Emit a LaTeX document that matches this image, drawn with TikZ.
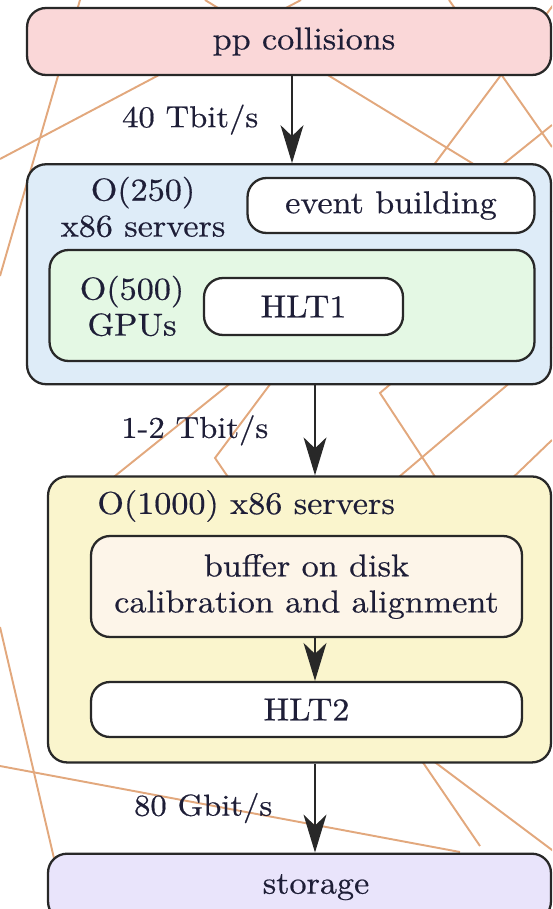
\documentclass[tikz,border=0pt]{standalone}
\usepackage{fontspec}
\setmainfont{lmroman10-regular.otf}[FakeStretch=1.08, FakeBold=0.5]
\usepackage{tikz}
\usetikzlibrary{arrows.meta,positioning}
\definecolor{edge}{RGB}{40,40,40}
\definecolor{txt}{RGB}{30,30,55}
\definecolor{bgorange}{RGB}{226,168,125}
\definecolor{pinkfill}{RGB}{250,215,216}
\definecolor{bluefill}{RGB}{222,236,248}
\definecolor{greenfill}{RGB}{228,248,228}
\definecolor{yellowfill}{RGB}{250,245,205}
\definecolor{creamfill}{RGB}{253,245,233}
\definecolor{lilacfill}{RGB}{233,228,251}
\tikzset{
    box/.style={rectangle, rounded corners=0.38cm, draw=edge, line width=1.3pt, text=txt, align=center, inner sep=0pt},
    tag/.style={inner sep=0pt, text=txt, align=center},
    rate/.style={inner sep=0pt, text=txt, font=\fontsize{17.2}{19.5}\selectfont},
    flow/.style={-{Stealth[length=7.6mm, width=4.6mm, inset=2.2mm]}, line width=0.8pt, draw=edge},
    bgline/.style={draw=bgorange, line width=1.1pt}
}

\begin{document}
\begin{tikzpicture}[x=0.02cm, y=-0.02cm, font=\fontsize{18}{20.5}\selectfont]
    \useasboundingbox (0,0) rectangle (552,909);
    \clip (0,0) rectangle (552,909);

    % background lines
    \draw[bgline] (80,0) -- (0,276);
    \draw[bgline] (301,0) -- (0,159);
    \draw[bgline] (205,0) -- (552,212);
    \draw[bgline] (449,0) -- (552,147);
    \draw[bgline] (557,0) -- (215,458) -- (480,846);
    \draw[bgline] (552,125) -- (110,480);
    \draw[bgline] (428,352) -- (380,393) -- (470,530);
    \draw[bgline] (552,347) -- (360,510);
    \draw[bgline] (552,440) -- (500,490);
    \draw[bgline] (0,627) -- (60,884);
    \draw[bgline] (0,766) -- (460,852);
    \draw[bgline] (400,736) -- (560,856);

    % stages
    \node[box, fill=pinkfill, minimum width=10.48cm, minimum height=1.34cm] (pp) at (289,41.5) {\hspace*{0.6cm}pp collisions};
    \node[box, fill=bluefill, minimum width=10.48cm, minimum height=4.4cm, below=1.74cm of pp] (farm) {};
    \node[box, fill=yellowfill, minimum width=10.06cm, minimum height=5.72cm, below=1.8cm of farm, xshift=0.21cm] (disk) {};
    \node[box, fill=lilacfill, minimum width=10.06cm, minimum height=1.34cm, below=1.78cm of disk] (storage) {\hspace*{0.66cm}storage};

    % inside the event builder farm
    \node[tag] (farmtag) at (143,207) {O(250)\\x86 servers};
    \node[box, fill=white, minimum width=5.74cm, minimum height=1.1cm] (evb) at (391,205.5) {event building};
    \node[box, fill=greenfill, minimum width=9.7cm, minimum height=2.22cm] (gpu) at (292,305.5) {};
    \node[tag] (gputag) at (132,306) {O(500)\\GPUs};
    \node[box, fill=white, minimum width=3.98cm, minimum height=1.14cm] (hltone) at (303.5,306.5) {HLT1};

    % inside the disk farm
    \node[tag, anchor=west] (disktag) at (97,506) {O(1000) x86 servers};
    \node[box, fill=creamfill, minimum width=8.62cm, minimum height=2.02cm] (buffer) at (306.5,586.5)
      {buffer on disk\\calibration and alignment};
    \node[box, fill=white, minimum width=8.62cm, minimum height=1.1cm] (hlttwo) at (306.5,709.5) {HLT2};

    % data flow
    \coordinate (lane) at (315,0);
    \draw[flow] ([xshift=0.6mm]pp.south) -- node[rate, left=6.6mm] {40 Tbit/s} ([xshift=0.6mm]farm.north);
    \draw[flow] (farm.south -| lane) -- node[rate, left=9.2mm] {1-2 Tbit/s} (disk.north -| lane);
    \draw[flow] (buffer.south -| lane) -- (hlttwo.north -| lane);
    \draw[flow] (disk.south -| lane) -- node[rate, left=8.4mm] {80 Gbit/s} (storage.north -| lane);
\end{tikzpicture}
\end{document}
